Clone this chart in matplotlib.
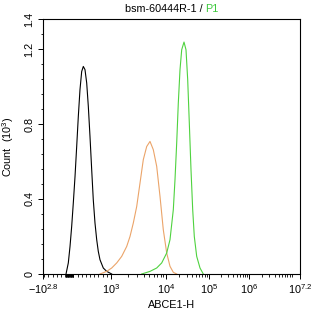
import numpy as np
import matplotlib
matplotlib.use("Agg")
import matplotlib.pyplot as plt

plt.rcParams['font.family'] = ['Liberation Sans', 'DejaVu Sans']
plt.rcParams['mathtext.fontset'] = 'custom'
plt.rcParams['mathtext.rm'] = 'Liberation Sans'
plt.rcParams['mathtext.it'] = 'Liberation Sans'

# ---- data (fluorescence intensity, count in 10^3) ----
black_x = [-79, -24, 17, 57, 96, 137, 177, 216, 256, 297, 336, 376, 417, 456,
           496, 537, 575, 616, 657, 695, 736, 815, 897, 1030]
black_y = [0.0, 0.059, 0.147, 0.254, 0.379, 0.52, 0.68, 0.84, 0.983, 1.08, 1.107,
           1.09, 1.019, 0.894, 0.734, 0.556, 0.396, 0.272, 0.183, 0.121, 0.076,
           0.032, 0.014, 0.0]

orange_x = [736, 897, 1030, 1270, 1565, 1930, 2215, 2545, 2933, 3368, 3867, 4458,
            5118, 5877, 6774, 7780, 8931, 10380, 12390, 14790, 17740]
orange_y = [0.0, 0.014, 0.032, 0.059, 0.094, 0.147, 0.2, 0.272, 0.36, 0.485, 0.61,
            0.68, 0.707, 0.663, 0.574, 0.414, 0.236, 0.112, 0.041, 0.009, 0.0]

green_x = [3615, 5118, 6774, 8350, 10380, 12390, 14790, 16190, 17740, 19320, 21170,
           23180, 26220, 29180, 31960, 34830, 38140, 41770, 45510, 51760, 61770, 73700]
green_y = [0.0, 0.014, 0.032, 0.059, 0.112, 0.183, 0.343, 0.503, 0.70, 0.911, 1.09,
           1.196, 1.237, 1.196, 1.036, 0.806, 0.556, 0.343, 0.2, 0.094, 0.032, 0.0]

xtick_vals = [-10 ** 2.8, 1e3, 1e4, 1e5, 1e6, 10 ** 7.2]
xtick_labels = [r'$-10^{2.8}$', r'$10^{3}$', r'$10^{4}$', r'$10^{5}$', r'$10^{6}$', r'$10^{7.2}$']
ytick_vals = [0, 0.4, 0.8, 1.2, 1.36]
ytick_labels = ['0', '0.4', '0.8', '1.2', '1.4']

title_main = 'bsm-60444R-1 /'
title_gate = 'P1'
xlabel = 'ABCE1-H'
ylabel = r'Count  (10$^{3}$)'

# ---- axis transform (linear near zero, log above 10^3) ----
XLO = -10 ** 2.8
LIN_W = 68.0
DEC = [3, 4, 5, 6, 7.2, 9]
PIX = [0, 55, 98, 138, 189, 265.5]


def fwd(x):
    x = np.asarray(x, float)
    lin = (x - XLO) / (1000 - XLO) * LIN_W
    lg = LIN_W + np.interp(np.log10(np.clip(x, 1000, None)), DEC, PIX)
    return np.where(x <= 1000, lin, lg)


def inv(p):
    p = np.asarray(p, float)
    lin = XLO + p / LIN_W * (1000 - XLO)
    lg = 10 ** np.interp(np.clip(p, LIN_W, None) - LIN_W, PIX, DEC)
    return np.where(p <= LIN_W, lin, lg)


fig = plt.figure(figsize=(3.14, 3.17), dpi=100)
ax = fig.add_axes([43 / 314, (317 - 274) / 317, (300 - 43) / 314, (274 - 19) / 317])
ax.set_xscale('function', functions=(fwd, inv))

lw = 0.8
ax.plot(black_x, black_y, color='black', lw=lw)
ax.plot(orange_x, orange_y, color='#eba469', lw=lw)
ax.plot(green_x, green_y, color='#4fd23f', lw=lw)

ax.set_xlim(XLO, 10 ** 7.2)
ax.set_ylim(0, 1.36)

ax.set_xticks(xtick_vals)
ax.set_xticklabels(xtick_labels, fontsize=7.8)
minor_x = [v for v in range(-600, 1000, 100) if v != 0] + list(range(-90, 100, 10))
for d in range(3, 7):
    minor_x += [k * 10 ** d for k in range(2, 10)]
minor_x += [k * 1e7 for k in (1,)]
ax.set_xticks(minor_x, minor=True)

ax.set_yticks(ytick_vals)
ax.set_yticklabels(ytick_labels, fontsize=7.8, rotation=90, va='center')
ax.set_yticks([i * 0.08 for i in range(1, 17) if i % 5 != 0], minor=True)

ax.tick_params(which='major', length=3.3, width=0.7, direction='out', pad=2.5, color='black')
ax.tick_params(which='minor', length=1.8, width=0.6, direction='out', color='black')
ax.tick_params(axis='y', pad=3)
for s in ax.spines.values():
    s.set_linewidth(0.8)

ax.set_xlabel(xlabel, fontsize=7.8, labelpad=3)
ax.set_ylabel(ylabel, fontsize=7.8, labelpad=6)

# title in two colours
fig.canvas.draw()
r = fig.canvas.get_renderer()
t1 = fig.text(0, 1 - 8.5 / 317, title_main, fontsize=7.8, color='black', va='center', ha='left')
t2 = fig.text(0, 1 - 8.5 / 317, title_gate, fontsize=7.8, color='#3cc83c', va='center', ha='left')
w1 = t1.get_window_extent(r).width
w2 = t2.get_window_extent(r).width
gap = 3.0
total = w1 + gap + w2
cx = (43 + 300) / 2
x0 = cx - total / 2
t1.set_x(x0 / 314)
t2.set_x((x0 + w1 + gap) / 314)

fig.savefig('out.png', dpi=100)
